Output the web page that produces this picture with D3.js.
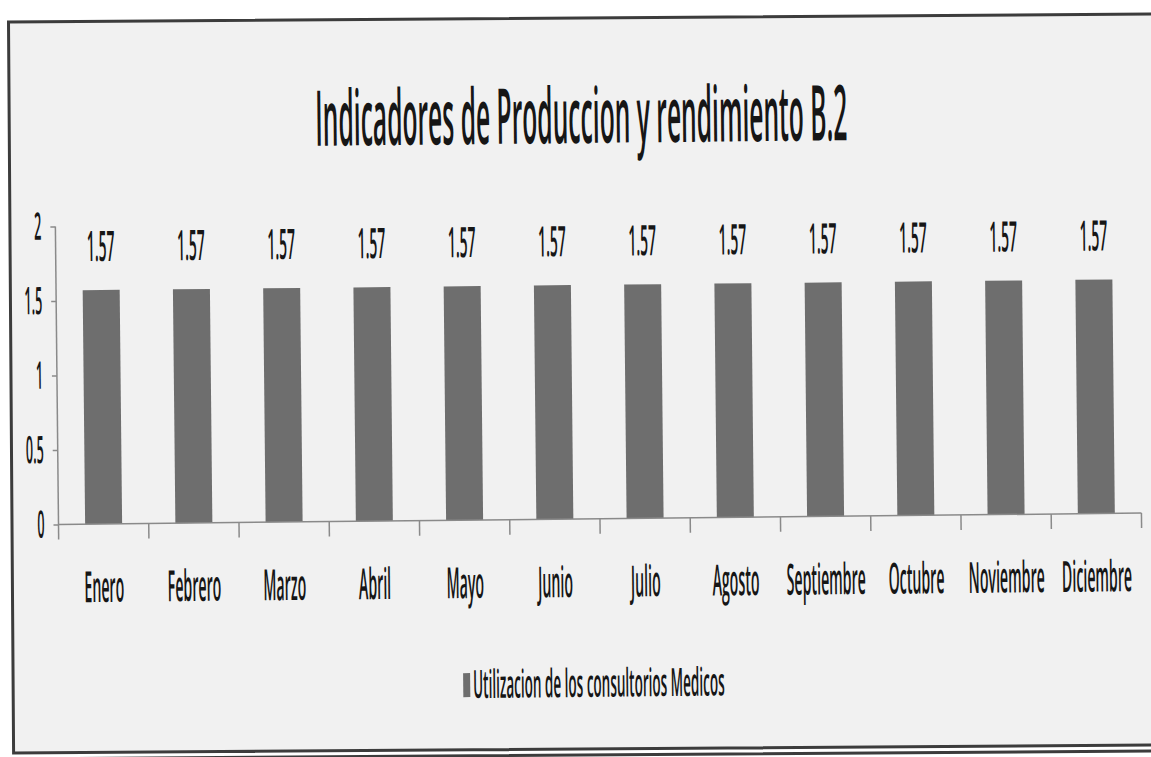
<!DOCTYPE html>
<html>
<head>
<meta charset="utf-8">
<script src="https://cdn.jsdelivr.net/npm/d3@7"></script>
<style>
  html, body { margin: 0; background: #fff; overflow: hidden; width: 1151px; height: 757px; }
  svg { display: block; }
  text { font-family: "Open Sans", "Noto Sans", sans-serif; fill: #161616; }
</style>
</head>
<body>
<svg id="chart" width="1151" height="757"></svg>
<script>
// chart values
const chartTitle = "Indicadores de Produccion y rendimiento B.2";
const months = [ "Enero", "Febrero", "Marzo", "Abril", "Mayo", "Junio",
                 "Julio", "Agosto", "Septiembre", "Octubre", "Noviembre", "Diciembre" ];
const values = [ 1.57, 1.57, 1.57, 1.57, 1.57, 1.57, 1.57, 1.57, 1.57, 1.57, 1.57, 1.57 ];
const yTicks = [ 0, 0.5, 1, 1.5, 2 ];
const seriesName = "Utilizacion de los consultorios Medicos";

const width = 1151, height = 757;
const K = 0.33;              // the scan squeezes every glyph horizontally
const barColor = "#6e6e6e";
const axisColor = "#8a8a8a";

const svg = d3.select( "#chart" );

// frame (tilted a little less than the plot in the scan), open on the right
const frame = svg.append( "g" )
  .attr( "transform", "rotate(-0.4," + width / 2 + "," + height / 2 + ")" );

frame.append( "rect" )
  .attr( "x", 11 ).attr( "y", 18 )
  .attr( "width", 1200 ).attr( "height", 731 )
  .attr( "fill", "#f1f1f1" );

frame.append( "path" )
  .attr( "d", "M1211,18H11V749H1211M11,755H1211" )
  .attr( "fill", "none" )
  .attr( "stroke", "#3c3c3c" )
  .attr( "stroke-width", 3 );

// the plotted page is slightly tilted
const page = svg.append( "g" )
  .attr( "transform", "rotate(-0.6," + width / 2 + "," + height / 2 + ")" );

// title
page.append( "text" )
  .attr( "x", 584 ).attr( "y", 143 )
  .attr( "text-anchor", "middle" )
  .attr( "textLength", 532 )
  .attr( "lengthAdjust", "spacingAndGlyphs" )
  .style( "font-size", "77px" )
  .style( "font-weight", "600" )
  .text( chartTitle );

// scales
const x = d3.scaleBand()
  .domain( months )
  .range( [ 57, 1140 ] )
  .paddingInner( 0.59 )
  .paddingOuter( 0.295 );

const y = d3.scaleLinear()
  .domain( [ 0, 2 ] )
  .range( [ 519, 221 ] );

// bars
page.selectAll( "rect.bar" )
  .data( values )
  .enter().append( "rect" )
    .attr( "class", "bar" )
    .attr( "x", ( d, i ) => x( months[ i ] ) )
    .attr( "y", d => y( d ) )
    .attr( "width", x.bandwidth() )
    .attr( "height", d => y( 0 ) - y( d ) )
    .attr( "fill", barColor );

// value labels
page.selectAll( "text.value" )
  .data( values )
  .enter().append( "text" )
    .attr( "class", "value" )
    .attr( "text-anchor", "middle" )
    .attr( "transform", ( d, i ) => "translate(" + ( x( months[ i ] ) + x.bandwidth() / 2 ) + ",256) scale(" + K + ",1)" )
    .style( "font-size", "42px" )
    .style( "font-weight", "600" )
    .text( d => d.toFixed( 2 ) );

// y axis
const yAxis = page.append( "g" )
  .attr( "transform", "translate(57,0)" )
  .call( d3.axisLeft( y ).tickValues( yTicks ).tickSize( 5 ).tickFormat( "" ) );

yAxis.select( ".domain" ).remove();
yAxis.selectAll( ".tick line" ).attr( "stroke", axisColor ).attr( "stroke-width", 1.5 );

page.append( "line" )
  .attr( "x1", 57 ).attr( "x2", 57 )
  .attr( "y1", y( 2 ) ).attr( "y2", y( 0 ) + 15 )
  .attr( "stroke", axisColor )
  .attr( "stroke-width", 1.5 );

page.selectAll( "text.ytick" )
  .data( yTicks )
  .enter().append( "text" )
    .attr( "class", "ytick" )
    .attr( "text-anchor", "end" )
    .attr( "transform", d => "translate(43," + ( y( d ) + 13 ) + ") scale(" + K + ",1)" )
    .style( "font-size", "38px" )
    .style( "font-weight", "600" )
    .text( d => d );

// x axis with boundary ticks
page.append( "line" )
  .attr( "x1", 57 ).attr( "x2", 1140 )
  .attr( "y1", y( 0 ) ).attr( "y2", y( 0 ) )
  .attr( "stroke", axisColor )
  .attr( "stroke-width", 1.5 );

page.selectAll( "line.xtick" )
  .data( d3.range( 1, months.length + 1 ) )
  .enter().append( "line" )
    .attr( "class", "xtick" )
    .attr( "x1", i => x.range()[ 0 ] + i * x.step() )
    .attr( "x2", i => x.range()[ 0 ] + i * x.step() )
    .attr( "y1", y( 0 ) ).attr( "y2", y( 0 ) + 15 )
    .attr( "stroke", axisColor )
    .attr( "stroke-width", 1.5 );

page.selectAll( "text.month" )
  .data( months )
  .enter().append( "text" )
    .attr( "class", "month" )
    .attr( "text-anchor", "middle" )
    .attr( "transform", d => "translate(" + ( x( d ) + x.bandwidth() / 2 ) + ",597) scale(" + K + ",1)" )
    .style( "font-size", "43px" )
    .style( "font-weight", "600" )
    .text( d => d );

// legend
page.append( "rect" )
  .attr( "x", 460 ).attr( "y", 672 )
  .attr( "width", 7 ).attr( "height", 24 )
  .attr( "fill", barColor );

page.append( "text" )
  .attr( "transform", "translate(470,697) scale(" + ( K * 1.05 ) + ",1)" )
  .style( "font-size", "39px" )
  .style( "font-weight", "600" )
  .text( seriesName );
</script>
</body>
</html>
